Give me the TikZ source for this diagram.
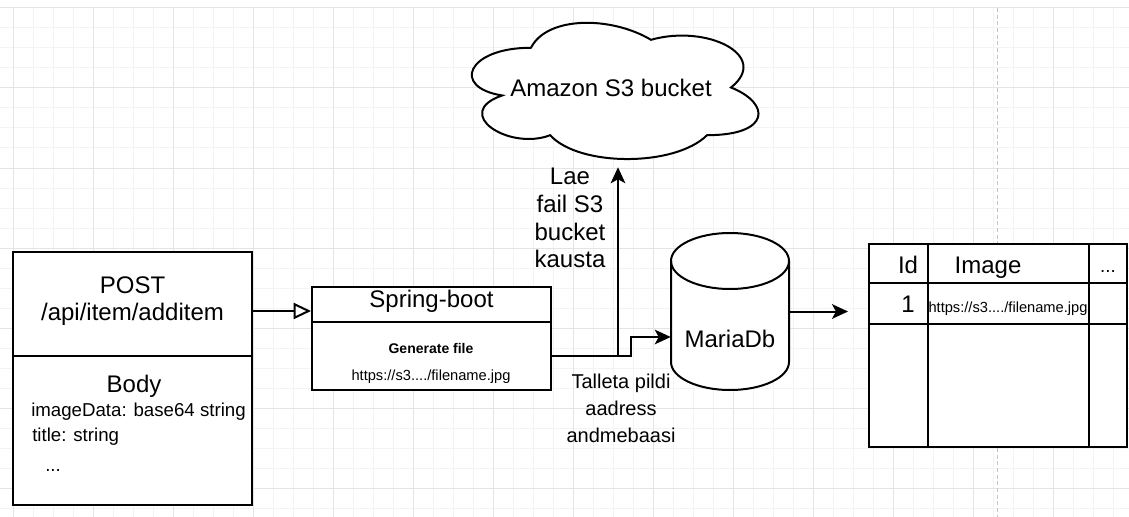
\documentclass[tikz,border=0pt]{standalone}
\usepackage{fontspec}
\setmainfont{Liberation Sans}
\usetikzlibrary{arrows.meta, calc, fit}
\definecolor{gMinor}{HTML}{F3F3F3}
\definecolor{gMajor}{HTML}{E4E4E4}
\definecolor{gPage}{HTML}{C4C4C4}
\newcommand{\fs}[2]{\fontsize{#1}{#2}\selectfont}

\begin{document}
\begin{tikzpicture}[x=0.75pt, y=-0.75pt,
    shp/.style={draw, line width=1.5pt, fill=white, inner sep=0pt},
    hold/.style={inner sep=0pt},
    big/.style={inner sep=0pt, font=\fs{18}{21}},
    mid/.style={inner sep=0pt, font=\fs{14}{17}},
    lbl/.style={inner sep=0pt, font=\fs{15}{20.25}},
    small/.style={inner sep=0pt, font=\fs{11}{13}},
    smallb/.style={inner sep=0pt, font=\fs{10.5}{13}\bfseries},
    arr/.style={line width=1.5pt, -{Stealth[length=12pt, width=11pt, inset=3pt]}},
    openarr/.style={line width=1.5pt, -{Triangle[open, fill=white, length=13pt, width=12pt]}}]
  \useasboundingbox (0,0) rectangle (1129,517);
  % grid
  \foreach \i in {0,...,55} \draw[gMinor, line width=0.75pt] ({13+20*\i},8) -- ({13+20*\i},517);
  \foreach \j in {0,...,25} \draw[gMinor, line width=0.75pt] (0,{8+20*\j}) -- (1129,{8+20*\j});
  \foreach \i in {0,...,13} \draw[gMajor, line width=0.75pt] ({13+80*\i},8) -- ({13+80*\i},517);
  \foreach \j in {0,...,6} \draw[gMajor, line width=0.75pt] (0,{8+80*\j}) -- (1129,{8+80*\j});
  \draw[gPage, line width=0.75pt, dash pattern=on 3pt off 2pt] (997,8) -- (997,517);

  % request box
  \node[shp, fit={(13,252) (252,356)}] (post) {};
  \node[shp, fit={(13,356) (252,505)}] (body) {};
  \node[big, anchor=base] (posth) at (132.5,293) {POST};
  \node[big, anchor=base] (postu) at (132.5,320) {/api/item/additem};
  \node[big, anchor=base] (bodyh) at (134,392) {Body};
  \node[mid, anchor=base west] (f1) at (31,416) {imageData: base64 string};
  \node[mid, anchor=base west] (f2) at (32,441) {title: string};
  \node[mid, anchor=base west] (f3) at (45,471) {...};

  % service box
  \node[shp, fit={(312,287) (551,322)}] (spring) {};
  \node[shp, fit={(312,322) (551,390)}] (sbody) {};
  \node[big, anchor=base] (sph) at (431.5,307) {Spring-boot};
  \node[smallb, anchor=base] (gen) at (431,353) {Generate file};
  \node[small, anchor=base] (url1) at (431,380) {https://s3..../filename.jpg};

  % cloud (box 320 x 159)
  \begin{scope}[shift={(451,8)}, x=240pt, y=-119.25pt]
    \filldraw[fill=white, line width=1.5pt] (0.25,0.25)
      .. controls (0.05,0.25) and (0,0.5) .. (0.16,0.55)
      .. controls (0,0.66) and (0.18,0.9) .. (0.31,0.8)
      .. controls (0.4,1) and (0.7,1) .. (0.8,0.8)
      .. controls (1,0.8) and (1,0.6) .. (0.875,0.5)
      .. controls (1,0.3) and (0.8,0.1) .. (0.625,0.2)
      .. controls (0.5,0.05) and (0.3,0.05) .. (0.25,0.25) -- cycle;
  \end{scope}
  \node[hold, fit={(451,8) (771,167)}] (s3) {};
  \node[big] (s3txt) at (s3.center) {Amazon S3 bucket};

  % database
  \filldraw[fill=white, line width=1.5pt] (671,261) -- (671,362)
    arc[start angle=180, end angle=0, x radius=59, y radius=28] -- (789,261)
    arc[start angle=0, end angle=-180, x radius=59, y radius=28] -- cycle;
  \draw[line width=1.5pt] (671,261) arc[start angle=180, end angle=0, x radius=59, y radius=28];
  \node[hold, fit={(671,233) (789,390)}] (db) {};
  \node[big, anchor=base] (dbtxt) at (730,347) {MariaDb};

  % table
  \node[shp, line width=1.8pt, fit={(869,244) (1127,447)}] (tbl) {};
  \draw[line width=1.8pt] (928,244) -- (928,447) (1089,244) -- (1089,447)
    (869,283) -- (1127,283) (869,324) -- (1127,324);
  \node[big, anchor=base] (cid) at (908,273) {Id};
  \node[big, anchor=base] (cimg) at (988,273) {Image};
  \node[mid, anchor=base] (cmore) at (1108,272) {...};
  \node[big, anchor=base] (r1) at (908,312) {1};
  \node[small, anchor=base] (url2) at (1008,312) {https://s3..../filename.jpg};

  % connectors
  \draw[openarr] ($(post.east)+(0,7)$) -- ($(spring.west)+(0,6.5)$);
  \draw[arr] (sbody.east) -| ($(s3.south)+(7,0)$);
  \draw[arr] (sbody.east) -- ++(79,0) |- ($(db.west)+(0,25.5)$);
  \coordinate (tin) at (848,311.5);
  \draw[arr] (db.east) -- (tin);
  \node[big, align=center, font=\fs{18}{20.8}] (lae) at (570,218) {Lae\\fail S3\\bucket\\kausta};
  \node[lbl, align=center] (talleta) at (621,408) {Talleta pildi\\aadress\\andmebaasi};
\end{tikzpicture}
\end{document}
